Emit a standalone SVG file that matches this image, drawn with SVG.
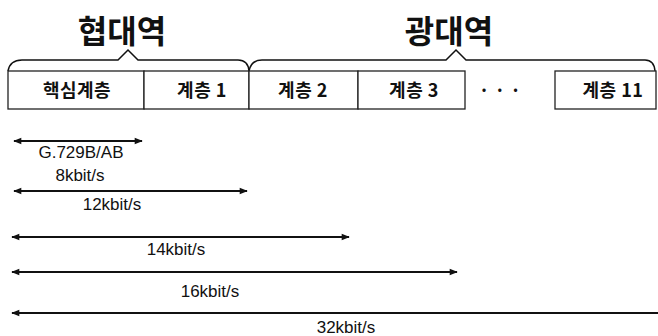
<svg xmlns="http://www.w3.org/2000/svg" width="658" height="336" viewBox="0 0 658 336">
<style>
.box{fill:#fff;stroke:#222;stroke-width:1.3}
.brace{fill:none;stroke:#111;stroke-width:1.5}
.title{font-family:"Noto Sans CJK KR",sans-serif;font-weight:bold;font-size:32px;fill:#111;text-anchor:middle}
.lbl{font-family:"Noto Sans CJK KR",sans-serif;font-weight:bold;font-size:18px;fill:#111;text-anchor:middle;letter-spacing:0.5px}
.rate{font-family:"Liberation Sans",Arial,sans-serif;font-size:17px;fill:#111;text-anchor:middle}
.arr{stroke:#111;stroke-width:1.8;fill:none}
</style>
<defs>
<marker id="ah" viewBox="0 0 10 10" refX="9" refY="5" markerWidth="5" markerHeight="4.5" orient="auto-start-reverse" markerUnits="strokeWidth">
<path d="M0,1 L10,5 L0,9 z" fill="#111"/>
</marker>
</defs>
<text class="title" x="122" y="43">협대역</text>
<text class="title" x="449" y="43">광대역</text>
<path class="brace" d="M8,71 Q10,60 22,60 L118,60 L128,50 L138,60 L238,60 Q248,60 249,71"/>
<path class="brace" d="M249,71 Q251,60 262,60 L446,60 L456,50 L466,60 L645,60 Q654,60 655,71"/>
<g id="n1"><rect class="box" x="8" y="71" width="136" height="38"/><text class="lbl" x="77" y="97">핵심계층</text></g>
<g id="n2"><rect class="box" x="144" y="71" width="105" height="38"/><text class="lbl" x="202" y="97">계층 1</text></g>
<g id="n3"><rect class="box" x="249" y="71" width="109" height="38"/><text class="lbl" x="303" y="97">계층 2</text></g>
<g id="n4"><rect class="box" x="358" y="71" width="107" height="38"/><text class="lbl" x="414" y="97">계층 3</text></g>
<g id="n5"><text class="lbl" x="500" y="97">· · ·</text></g>
<g id="n6"><rect class="box" x="555" y="71" width="101" height="38"/><text class="lbl" x="613" y="97">계층 11</text></g>
<g id="connectors">
<line class="arr" x1="14" y1="141" x2="142" y2="141" marker-start="url(#ah)" marker-end="url(#ah)"/>
<line class="arr" x1="14" y1="191" x2="247" y2="191" marker-start="url(#ah)" marker-end="url(#ah)"/>
<line class="arr" x1="12" y1="237" x2="349" y2="237" marker-start="url(#ah)" marker-end="url(#ah)"/>
<line class="arr" x1="12" y1="272" x2="457" y2="272" marker-start="url(#ah)" marker-end="url(#ah)"/>
<line class="arr" x1="12" y1="313" x2="658" y2="313" marker-start="url(#ah)"/>
</g>
<text class="rate" x="81" y="158">G.729B/AB</text>
<text class="rate" x="80" y="181">8kbit/s</text>
<text class="rate" x="112" y="210">12kbit/s</text>
<text class="rate" x="176" y="255">14kbit/s</text>
<text class="rate" x="210" y="297">16kbit/s</text>
<text class="rate" x="346" y="333">32kbit/s</text>
</svg>
